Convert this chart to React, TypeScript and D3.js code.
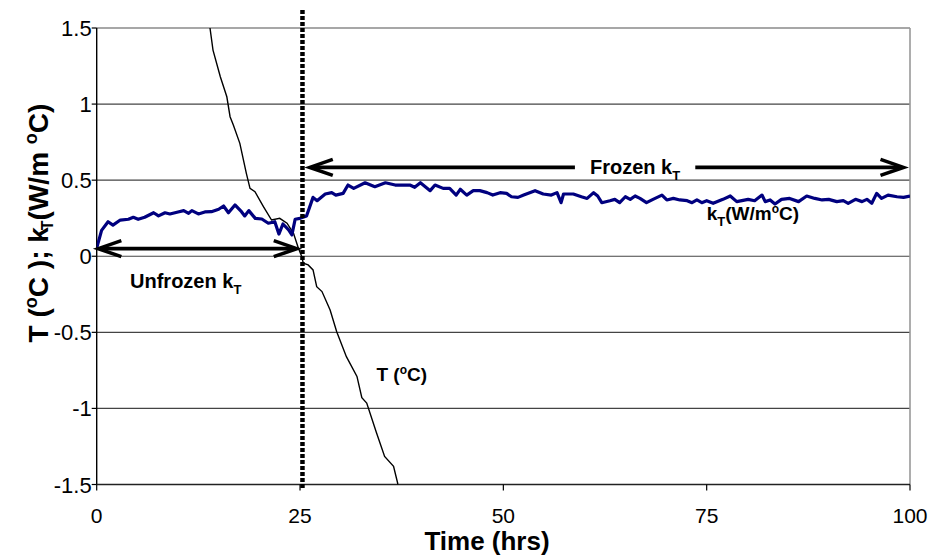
import React from 'react';
import * as d3 from 'd3';

const xTicks = [0, 25, 50, 75, 100];
const yTicks = [1.5, 1, 0.5, 0, -0.5, -1, -1.5];

// kT (W/m°C) vs time (hrs)
const kData: [number, number][] = [
  [0, 0.053], [0.6, 0.17], [1.4, 0.227], [2.0, 0.205], [2.9, 0.238], [3.9, 0.243], [4.5, 0.256],
  [5.1, 0.243], [5.9, 0.256], [7.0, 0.286], [7.6, 0.265], [8.4, 0.286], [9.0, 0.278], [10.0, 0.291],
  [10.7, 0.3], [11.3, 0.282], [11.7, 0.3], [12.5, 0.278], [13.3, 0.291], [14.1, 0.293], [15.0, 0.309],
  [15.6, 0.33], [16.2, 0.286], [17.0, 0.337], [17.8, 0.293], [18.2, 0.265], [18.7, 0.3], [19.5, 0.249],
  [20.3, 0.245], [21.1, 0.217], [21.9, 0.227], [22.4, 0.146], [22.9, 0.212], [23.6, 0.173], [24.0, 0.14],
  [24.4, 0.243], [25.0, 0.249], [25.8, 0.265], [26.6, 0.387], [27.1, 0.365], [28.1, 0.409], [28.9, 0.418],
  [29.4, 0.402], [30.3, 0.413], [30.9, 0.468], [31.6, 0.446], [33.0, 0.483], [34.2, 0.457], [35.5, 0.483],
  [36.7, 0.468], [38.5, 0.468], [39.1, 0.453], [39.8, 0.483], [41.0, 0.431], [41.6, 0.468], [42.6, 0.446],
  [43.4, 0.446], [44.2, 0.402], [44.7, 0.44], [45.5, 0.402], [46.3, 0.431], [47.1, 0.431], [48.0, 0.418],
  [48.7, 0.402], [49.6, 0.418], [50.4, 0.413], [51.0, 0.391], [51.8, 0.387], [52.5, 0.402], [53.9, 0.431],
  [54.9, 0.409], [55.9, 0.402], [56.6, 0.418], [57.1, 0.352], [57.4, 0.409], [58.6, 0.409], [59.6, 0.391],
  [60.3, 0.38], [61.1, 0.418], [61.6, 0.396], [62.1, 0.352], [63.1, 0.365], [63.7, 0.374], [64.3, 0.352],
  [65.0, 0.391], [65.6, 0.374], [66.2, 0.396], [66.8, 0.38], [67.6, 0.352], [68.4, 0.374], [69.5, 0.402],
  [70.1, 0.37], [70.9, 0.38], [71.7, 0.37], [72.6, 0.365], [73.2, 0.352], [73.8, 0.37], [74.4, 0.352],
  [75.0, 0.365], [75.8, 0.348], [77.0, 0.374], [77.9, 0.396], [78.7, 0.359], [80.1, 0.374], [80.9, 0.365],
  [81.8, 0.402], [82.2, 0.359], [82.8, 0.37], [83.4, 0.343], [84.2, 0.374], [85.2, 0.38], [86.3, 0.359],
  [87.3, 0.396], [88.3, 0.38], [89.2, 0.37], [90.0, 0.374], [91.0, 0.359], [91.8, 0.365], [92.4, 0.348],
  [93.3, 0.374], [94.1, 0.359], [94.7, 0.374], [95.3, 0.348], [95.9, 0.413], [96.5, 0.38], [97.3, 0.402],
  [98.4, 0.391], [99.2, 0.387], [100, 0.396],
];

// T (°C) vs time (hrs)
const tData: [number, number][] = [
  [13.6, 1.65], [13.93, 1.5], [14.3, 1.355], [15.2, 1.18], [16.0, 1.048], [16.4, 0.917], [16.8, 0.862],
  [17.6, 0.742], [18.4, 0.545], [18.85, 0.446], [19.46, 0.424], [20.5, 0.326], [21.5, 0.238], [22.5, 0.249],
  [23.4, 0.217], [24.2, 0.151], [24.8, 0.053], [25.2, 0], [25.4, -0.046], [26.0, -0.057], [26.6, -0.09],
  [27.05, -0.2], [27.7, -0.232], [28.7, -0.353], [29.5, -0.495], [30.7, -0.66], [32.0, -0.79], [32.6, -0.93],
  [33.2, -0.965], [34.4, -1.16], [35.4, -1.316], [36.5, -1.38], [37.0, -1.49], [37.2, -1.6],
];

const freezeTime = 25.3;
const unfrozenArrow = { from: 0.2, to: 24.6, value: 0.05 };
const frozenArrow = { from: 26.2, leftEnd: 58.8, rightStart: 73.6, to: 99.2, value: 0.584 };

const FONT = "'Liberation Sans', Arial, sans-serif";

function chevron(tipX: number, tipY: number, dir: number) {
  const back = 23, spread = 8;
  return `M${tipX - dir * back},${tipY - spread}L${tipX},${tipY}L${tipX - dir * back},${tipY + spread}`;
}

export default function App() {
  const W = 930, H = 557;
  const x = d3.scaleLinear().domain([0, 100]).range([96.7, 910]);
  const y = d3.scaleLinear().domain([-1.5, 1.5]).range([484.5, 28]);
  const line = d3.line<[number, number]>().x(d => x(d[0])).y(d => y(d[1]));

  const ua = unfrozenArrow;
  const fa = frozenArrow;
  const uy = y(ua.value);
  const fy = y(fa.value);

  return (
    <div style={{ position: 'absolute', left: 0, top: 0 }}>
      <svg width={W} height={H} style={{ display: 'block', background: '#fff' }} fontFamily={FONT}>
        <defs>
          <clipPath id="plot">
            <rect x={x(0)} y={y(1.5)} width={x(100) - x(0)} height={y(-1.5) - y(1.5)} />
          </clipPath>
        </defs>
        {/* gridlines */}
        {yTicks.map(v => (
          <line key={v} x1={x(0)} x2={x(100)} y1={y(v)} y2={y(v)} stroke={v === 1.5 ? '#8a8a8a' : '#444'} strokeWidth={v === 1.5 ? 1.6 : 1.1} />
        ))}
        {/* right border */}
        <line x1={x(100)} x2={x(100)} y1={y(1.5)} y2={y(-1.5)} stroke="#999" strokeWidth={1.6} />
        {/* axes */}
        <line x1={x(0)} x2={x(0)} y1={y(1.5)} y2={y(-1.5)} stroke="#000" strokeWidth={1.4} />
        <line x1={x(0)} x2={x(100)} y1={y(-1.5)} y2={y(-1.5)} stroke="#222" strokeWidth={1.4} />
        {yTicks.map(v => (
          <g key={'yt' + v}>
            <line x1={x(0) - 5} x2={x(0)} y1={y(v)} y2={y(v)} stroke="#000" strokeWidth={1.2} />
            <text x={x(0) - 5} y={y(v) + 8} textAnchor="end" fontSize={22} fill="#000">{String(v)}</text>
          </g>
        ))}
        {xTicks.map(v => (
          <g key={'xt' + v}>
            <line x1={x(v)} x2={x(v)} y1={y(-1.5)} y2={y(-1.5) + 6} stroke="#000" strokeWidth={1.2} />
            <text x={x(v)} y={523} textAnchor="middle" fontSize={21} fill="#000">{String(v)}</text>
          </g>
        ))}

        {/* series */}
        <g clipPath="url(#plot)">
          <path d={line(tData) || ''} fill="none" stroke="#000" strokeWidth={1.4} />
          <path d={line(kData) || ''} fill="none" stroke="#00007f" strokeWidth={3.2} strokeLinejoin="round" />
        </g>

        {/* freezing line */}
        <line x1={x(freezeTime)} x2={x(freezeTime)} y1={10} y2={490} stroke="#000" strokeWidth={4.5} strokeDasharray="4,2" />

        {/* arrows */}
        <g stroke="#000" strokeWidth={3.6} fill="none">
          <line x1={x(ua.from) + 2} x2={x(ua.to) - 2} y1={uy} y2={uy} />
          <path d={chevron(x(ua.from), uy, -1)} />
          <path d={chevron(x(ua.to), uy, 1)} />
          <line x1={x(fa.from) + 2} x2={x(fa.leftEnd)} y1={fy} y2={fy} />
          <path d={chevron(x(fa.from), fy, -1)} />
          <line x1={x(fa.rightStart)} x2={x(fa.to) - 2} y1={fy} y2={fy} />
          <path d={chevron(x(fa.to), fy, 1)} />
        </g>

        {/* annotations */}
        <text x={x(4.1)} y={y(-0.21)} fontSize={20} fontWeight="bold">Unfrozen k<tspan fontSize={13} dy={6}>T</tspan></text>
        <text x={x(60.65)} y={y(0.54)} fontSize={20} fontWeight="bold">Frozen k<tspan fontSize={13} dy={6}>T</tspan></text>
        <text x={x(34.4)} y={y(-0.82)} fontSize={19} fontWeight="bold">T (<tspan fontSize={12} dy={-7}>o</tspan><tspan dy={7}>C)</tspan></text>
        <text x={x(75.0)} y={y(0.238)} fontSize={19} fontWeight="bold">k<tspan fontSize={13} dy={6}>T</tspan><tspan dy={-6}>(W/m</tspan><tspan fontSize={12} dy={-7}>o</tspan><tspan dy={7}>C)</tspan></text>

        {/* axis titles */}
        <text x={487} y={550} textAnchor="middle" fontSize={26} fontWeight="bold">Time (hrs)</text>
        <text transform="translate(48,223) rotate(-90)" textAnchor="middle" fontSize={28} fontWeight="bold">
          T (<tspan fontSize={18} dy={-11}>o</tspan><tspan dy={11}>C ); k</tspan><tspan fontSize={16} dy={5} dx={-3}>T</tspan><tspan dy={-5}>(W/m </tspan><tspan fontSize={18} dy={-11}>o</tspan><tspan dy={11}>C)</tspan>
        </text>
      </svg>
    </div>
  );
}
